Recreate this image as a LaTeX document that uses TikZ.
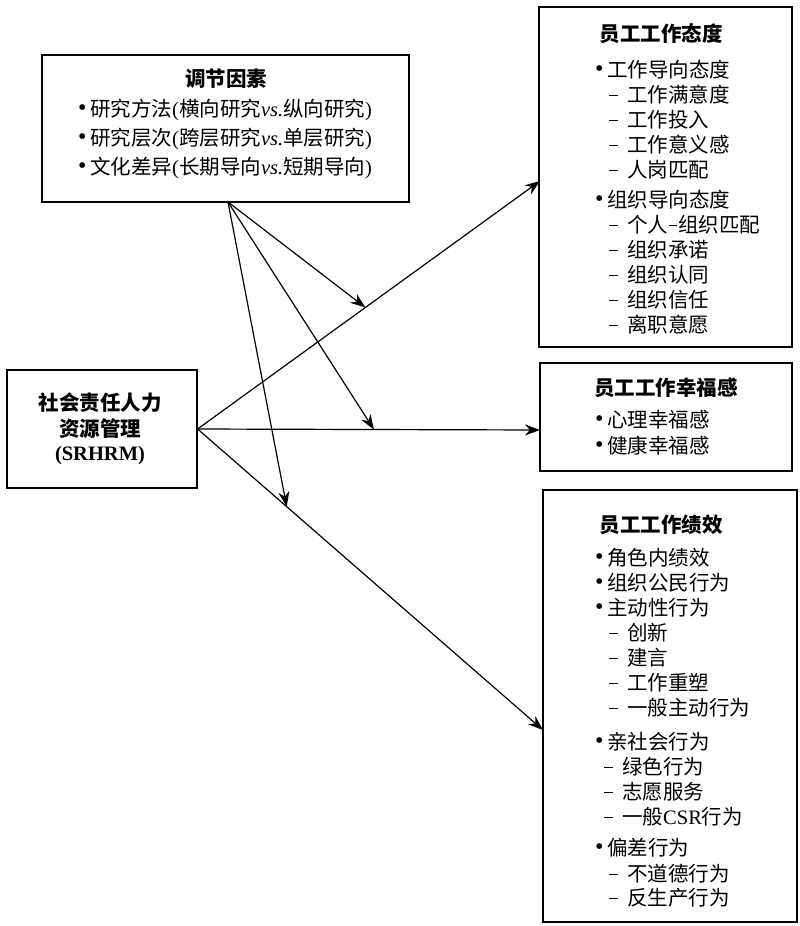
\documentclass[tikz,border=0pt]{standalone}
\usepackage{fontspec}
\setmainfont{Liberation Serif}
\newfontfamily\cjk{Noto Sans CJK SC}
\usetikzlibrary{arrows.meta,calc}
\newcommand\latn[1]{{\rmfamily #1}}
\newcommand\bul{\makebox[12pt][l]{\raisebox{1.5pt}{\latn{\fontsize{24}{24}\selectfont •}}}}
\newcommand\dsh{\makebox[18pt][l]{\rule[6.8pt]{9pt}{1.4pt}}}
\newcommand\mdsh{\hspace{1pt}\rule[6.8pt]{8pt}{1.4pt}\hspace{1pt}}
\begin{document}
\begin{tikzpicture}[x=1pt,y=-1pt,
  boxs/.style={draw, line width=1.2pt, inner sep=0pt},
  txt/.style={inner sep=0pt, anchor=west, font=\cjk\fontsize{20.5}{24}\selectfont},
  ttl/.style={inner sep=0pt, anchor=center, font=\cjk\bfseries\fontsize{20.5}{24}\selectfont},
  arr/.style={line width=1.2pt, -{Stealth[length=15pt,width=11pt]}},
  ln/.style={line width=1.2pt}]
\useasboundingbox (0,0) rectangle (800,926);
\fill[white] (0,0) rectangle (800,926);

% boxes
\node[boxs, minimum width=367pt, minimum height=147pt] (mod) at (225.5,128.5) {};
\node[boxs, minimum width=190pt, minimum height=118pt] (srhrm) at (102,429) {};
\node[boxs, minimum width=253pt, minimum height=340pt] (att) at (665.5,177) {};
\node[boxs, minimum width=252pt, minimum height=108pt] (wb) at (666,417) {};
\node[boxs, minimum width=254pt, minimum height=432pt] (perf) at (670,706) {};

% moderator text
\node[ttl] (modt) at (226,79) {调节因素};
\node[txt] (m1) at (78,110) {\bul 研究方法\latn{(}横向研究\latn{\itshape vs.}纵向研究\latn{)}};
\node[txt] (m2) at (78,139) {\bul 研究层次\latn{(}跨层研究\latn{\itshape vs.}单层研究\latn{)}};
\node[txt] (m3) at (78,168) {\bul 文化差异\latn{(}长期导向\latn{\itshape vs.}短期导向\latn{)}};

% SRHRM text
\node[ttl] (s1) at (100,403) {社会责任人力};
\node[ttl] (s2) at (100,429) {资源管理};
\node[ttl, font=\rmfamily\bfseries\fontsize{20.5}{24}\selectfont] (s3) at (100,456) {(SRHRM)};

% attitude text
\node[ttl] (at) at (661,34) {员工工作态度};
\node[txt] (a1) at (595,70) {\bul 工作导向态度};
\node[txt] (a2) at (609,95) {\dsh 工作满意度};
\node[txt] (a3) at (609,120) {\dsh 工作投入};
\node[txt] (a4) at (609,145) {\dsh 工作意义感};
\node[txt] (a5) at (609,170) {\dsh 人岗匹配};
\node[txt] (a6) at (595,200) {\bul 组织导向态度};
\node[txt] (a7) at (609,225) {\dsh 个人\mdsh 组织匹配};
\node[txt] (a8) at (609,250) {\dsh 组织承诺};
\node[txt] (a9) at (609,275) {\dsh 组织认同};
\node[txt] (a10) at (609,300) {\dsh 组织信任};
\node[txt] (a11) at (609,325) {\dsh 离职意愿};

% wellbeing text
\node[ttl] (wt) at (666,388) {员工工作幸福感};
\node[txt] (w1) at (595,420) {\bul 心理幸福感};
\node[txt] (w2) at (595,446) {\bul 健康幸福感};

% performance text
\node[ttl] (pt) at (661,525) {员工工作绩效};
\node[txt] (p1) at (595,558) {\bul 角色内绩效};
\node[txt] (p2) at (595,583) {\bul 组织公民行为};
\node[txt] (p3) at (595,608) {\bul 主动性行为};
\node[txt] (p4) at (609,633) {\dsh 创新};
\node[txt] (p5) at (609,658) {\dsh 建言};
\node[txt] (p6) at (609,683) {\dsh 工作重塑};
\node[txt] (p7) at (609,708) {\dsh 一般主动行为};
\node[txt] (p8) at (595,742) {\bul 亲社会行为};
\node[txt] (p9) at (604,767) {\dsh 绿色行为};
\node[txt] (p10) at (604,792) {\dsh 志愿服务};
\node[txt] (p11) at (604,817) {\dsh 一般\latn{CSR}行为};
\node[txt] (p12) at (595,848) {\bul 偏差行为};
\node[txt] (p13) at (609,874) {\dsh 不道德行为};
\node[txt] (p14) at (609,898) {\dsh 反生产行为};

% connectors
\coordinate (src) at (srhrm.east);
\coordinate (aT) at (540,181);
\coordinate (wT) at (540,430);
\coordinate (pT) at (543,730);
\coordinate (mS) at (228,202);
\draw[arr] (src) -- (aT);
\draw[arr] (src) -- (wT);
\draw[arr] (src) -- (pT);
\draw[arr] (mS) -- ($(src)!0.49!(aT)$);
\draw[arr] (mS) -- ($(src)!0.515!(wT)$);
\draw[arr] (mS) -- ($(src)!0.258!(pT)$);
\end{tikzpicture}
\end{document}
